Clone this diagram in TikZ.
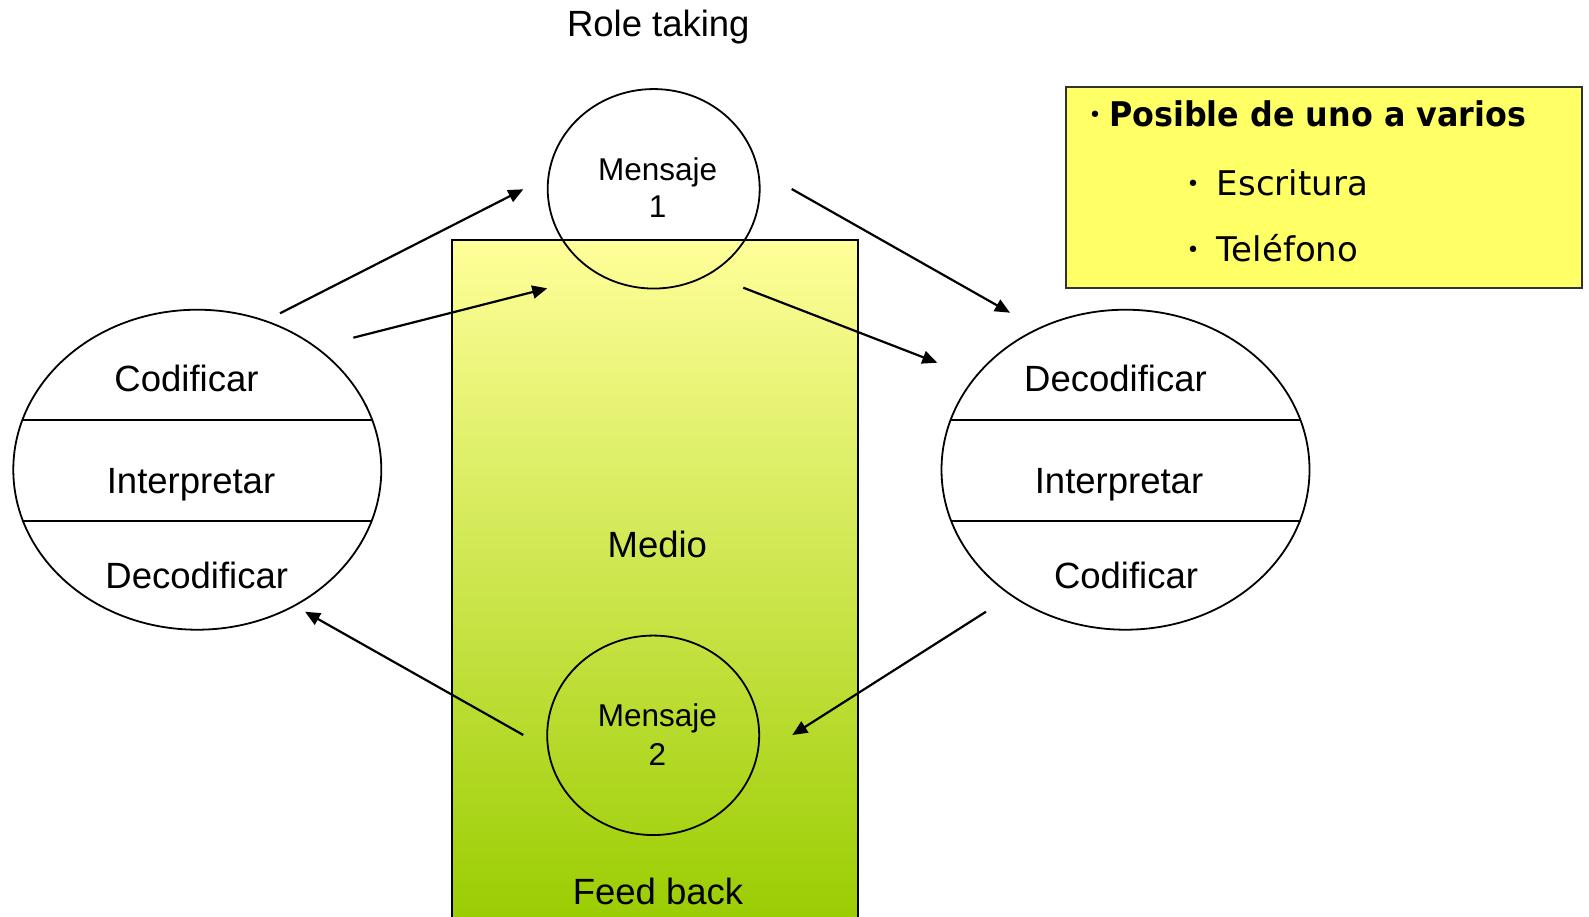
\documentclass[tikz,border=0pt]{standalone}
\usepackage{fontspec}
\setmainfont{Liberation Sans}
\newfontfamily\boxfont{DejaVu Sans}
\usetikzlibrary{shapes.geometric,arrows.meta,calc}
\definecolor{medtop}{RGB}{255,255,153}
\definecolor{medmid}{RGB}{214,231,104}
\definecolor{medbot}{RGB}{153,204,0}
\definecolor{boxfill}{RGB}{255,255,102}
\definecolor{boxline}{RGB}{50,50,50}
\tikzset{
  big/.style={anchor=base, inner sep=0pt, font=\fontsize{36.5}{40}\selectfont},
  msg/.style={anchor=base, inner sep=0pt, font=\fontsize{31.5}{34}\selectfont},
  oval/.style={ellipse, draw, line width=1.8pt, inner sep=0pt},
  conn/.style={line width=2.2pt, -{Triangle[length=15pt,width=13pt]}},
  divider/.style={line width=1.8pt},
  bul/.style={anchor=center, inner sep=0pt, font=\boxfont\fontsize{22}{24}\selectfont},
  boxtxt/.style={anchor=base west, inner sep=0pt, font=\boxfont\fontsize{34}{38}\selectfont},
}
\begin{document}
\begin{tikzpicture}[x=1pt,y=-1pt]
\useasboundingbox (0,0) rectangle (1589,916);

% medium rectangle
\node[rectangle, draw, line width=1.8pt, anchor=north west,
      minimum width=406pt, minimum height=690pt,
      top color=medtop, middle color=medmid, bottom color=medbot] (medio) at (450.7,239) {};

% message circles
\node[oval, minimum width=212pt, minimum height=199.5pt] (m1) at (653.7,188.8) {};
\node[oval, minimum width=212pt, minimum height=199.5pt] (m2) at (653.2,735.3) {};
\node[msg] (m1a) at (657.6,180) {Mensaje};
\node[msg] (m1b) at (657.6,217.3) {1};
\node[msg] (m2a) at (657.3,726.7) {Mensaje};
\node[msg] (m2b) at (657.3,765) {2};

% labels
\node[big] (role) at (658.3,36) {Role taking};
\node[big] (med) at (657.3,557.3) {Medio};
\node[big] (feed) at (658,904) {Feed back};

% left ellipse
\node[oval, minimum width=368pt, minimum height=320pt] (L) at (197.3,469.7) {};
\draw[divider] ($(L.center)+(-175,-49.5)$) -- ($(L.center)+(175,-49.5)$);
\draw[divider] ($(L.center)+(-175,51)$) -- ($(L.center)+(175,51)$);
\node[big] (L1) at (186.5,391.7) {Codificar};
\node[big] (L2) at (191,493.3) {Interpretar};
\node[big] (L3) at (196.7,588.3) {Decodificar};

% right ellipse
\node[oval, minimum width=368pt, minimum height=320pt] (R) at (1125.5,469.7) {};
\draw[divider] ($(R.center)+(-175,-49.5)$) -- ($(R.center)+(175,-49.5)$);
\draw[divider] ($(R.center)+(-175,51)$) -- ($(R.center)+(175,51)$);
\node[big] (R1) at (1115.5,391.7) {Decodificar};
\node[big] (R2) at (1119,493.3) {Interpretar};
\node[big] (R3) at (1126,588.3) {Codificar};

% connectors
\coordinate (a1s) at (280,313.3);   \coordinate (a1e) at (523.3,189.3);
\coordinate (a2s) at (353.3,337.7); \coordinate (a2e) at (547.3,288.3);
\coordinate (a3s) at (791.7,189);   \coordinate (a3e) at (1010,312.7);
\coordinate (a4s) at (743.3,287.7); \coordinate (a4e) at (937.3,362.7);
\coordinate (a5s) at (986,611.7);   \coordinate (a5e) at (792.3,735);
\coordinate (a6s) at (523.3,735);   \coordinate (a6e) at (305,611.7);
\draw[conn] (a1s) -- (a1e);
\draw[conn] (a2s) -- (a2e);
\draw[conn] (a3s) -- (a3e);
\draw[conn] (a4s) -- (a4e);
\draw[conn] (a5s) -- (a5e);
\draw[conn] (a6s) -- (a6e);

% note box
\node[rectangle, draw=boxline, line width=1.8pt, fill=boxfill, anchor=north west,
      minimum width=516pt, minimum height=200.7pt] (note) at (1065,86) {};
\node[bul] (b1) at (1095,116.7) {•};
\node[boxtxt, font=\boxfont\bfseries\fontsize{34}{38}\selectfont] (n1) at (1109,126.7) {\scalebox{0.935}[1]{Posible de uno a varios}};
\node[bul] (b2) at (1193,186) {•};
\node[boxtxt] (n2) at (1216.7,195) {Escritura};
\node[bul] (b3) at (1193,251.7) {•};
\node[boxtxt] (n3) at (1216.7,261.7) {Teléfono};
\end{tikzpicture}
\end{document}
